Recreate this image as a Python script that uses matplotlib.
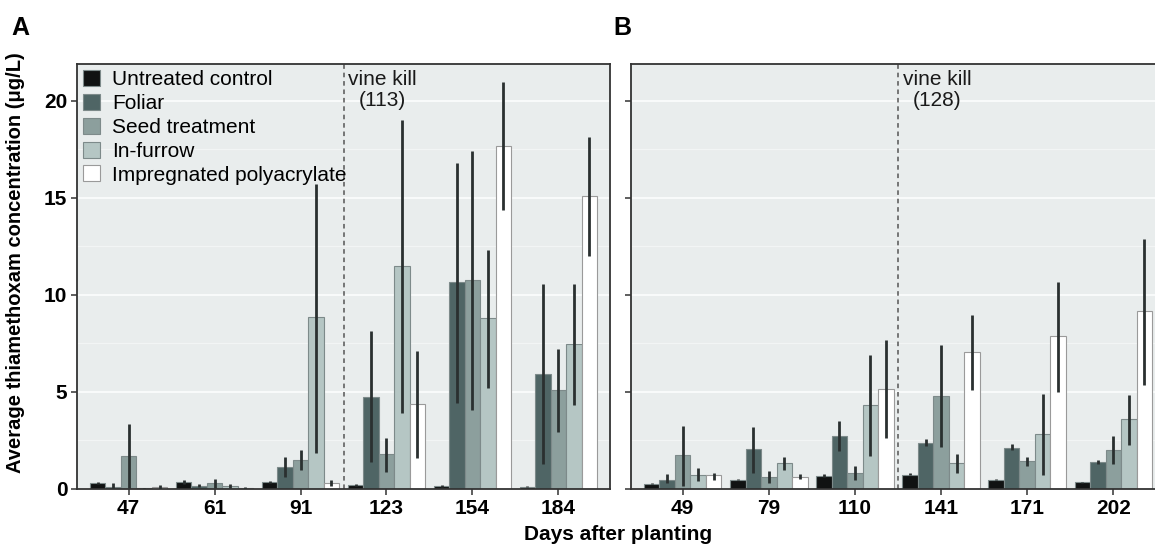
import matplotlib
matplotlib.use("Agg")
import matplotlib.pyplot as plt
from matplotlib.patches import Patch
import numpy as np

plt.rcParams['font.family'] = ['Liberation Sans', 'DejaVu Sans']

treatments = ["Untreated control", "Foliar", "Seed treatment", "In-furrow",
              "Impregnated polyacrylate"]
colors = ["#101212", "#4f6565", "#8c9f9d", "#b5c6c4", "#ffffff"]

# panel A
days_a = ["47", "61", "91", "123", "154", "184"]
mean_a = [
    [0.33, 0.35, 0.38, 0.22, 0.15, 0.12],
    [0.12, 0.15, 1.15, 4.75, 10.65, 5.95],
    [1.70, 0.30, 1.50, 1.80, 10.78, 5.12],
    [0.04, 0.15, 8.85, 11.50, 8.80, 7.48],
    [0.10, 0.05, 0.30, 4.38, 17.67, 15.10],
]
low_a = [
    [0.28, 0.28, 0.33, 0.18, 0.12, 0.10],
    [0.05, 0.08, 0.60, 1.37, 4.45, 1.27],
    [0.05, 0.05, 0.98, 0.86, 4.06, 2.95],
    [0.02, 0.05, 1.88, 3.94, 5.22, 4.32],
    [0.02, 0.02, 0.18, 1.58, 14.38, 12.02],
]
high_a = [
    [0.38, 0.45, 0.43, 0.27, 0.19, 0.14],
    [0.30, 0.25, 1.64, 8.12, 16.80, 10.56],
    [3.33, 0.52, 2.00, 2.65, 17.40, 7.23],
    [0.06, 0.28, 15.70, 19.00, 12.30, 10.56],
    [0.22, 0.08, 0.45, 7.10, 20.96, 18.15],
]

# panel B
days_b = ["49", "79", "110", "141", "171", "202"]
mean_b = [
    [0.27, 0.48, 0.65, 0.74, 0.48, 0.34],
    [0.48, 2.04, 2.75, 2.37, 2.13, 1.37],
    [1.74, 0.62, 0.82, 4.78, 1.43, 2.03],
    [0.70, 1.34, 4.31, 1.34, 2.84, 3.61],
    [0.70, 0.60, 5.15, 7.06, 7.87, 9.16],
]
low_b = [
    [0.24, 0.45, 0.60, 0.70, 0.45, 0.31],
    [0.30, 0.82, 1.94, 2.20, 2.00, 1.30],
    [0.15, 0.31, 0.48, 2.15, 1.20, 1.30],
    [0.40, 0.96, 1.72, 0.82, 0.74, 2.29],
    [0.48, 0.50, 2.63, 5.12, 5.00, 5.38],
]
high_b = [
    [0.31, 0.51, 0.75, 0.80, 0.52, 0.37],
    [0.75, 3.20, 3.49, 2.60, 2.30, 1.50],
    [3.23, 0.91, 1.17, 7.44, 1.65, 2.72],
    [1.08, 1.65, 6.89, 1.82, 4.90, 4.86],
    [0.82, 0.75, 7.68, 8.95, 10.65, 12.89],
]

vine_kill = ["vine kill\n(113)", "vine kill\n(128)"]

fig = plt.figure(figsize=(11.55, 5.45), dpi=100)
ax_a = fig.add_axes([77 / 1155, 56 / 545, 533 / 1155, 425 / 545])
ax_b = fig.add_axes([631 / 1155, 56 / 545, 534 / 1155, 425 / 545], sharey=ax_a)

width = 0.18
offsets = (np.arange(5) - 2) * width


def draw_panel(ax, days, mean, low, high, vk, letter, letter_x, show_labels):
    x = np.arange(len(days))
    ax.set_facecolor("#e9eded")
    ax.set_axisbelow(True)
    for i in range(5):
        m = np.array(mean[i])
        err = [m - np.array(low[i]), np.array(high[i]) - m]
        edge = "#9a9a9a" if i == 4 else "#7d8a8a"
        ax.bar(x + offsets[i], m, width, color=colors[i], edgecolor=edge,
               linewidth=0.8, zorder=2)
        ax.errorbar(x + offsets[i], m, yerr=err, fmt="none", ecolor="#2a3030",
                    elinewidth=2.0, capsize=0, zorder=3)
    ax.axvline(2.5, color="#555555", linestyle=(0, (3, 2.5)), linewidth=1.1, zorder=1)
    ax.text(2.555, 21.6, vk, ha="left", va="top", multialignment="center",
            fontsize=15, color="#1a1a1a", linespacing=1.12)
    ax.set_xlim(-0.6, 5.6)
    ax.set_ylim(0, 21.9)
    ax.set_xticks(x)
    ax.set_xticklabels(days, fontsize=15, fontweight="bold")
    ax.set_yticks([0, 5, 10, 15, 20])
    ax.set_yticks([2.5, 7.5, 12.5, 17.5], minor=True)
    ax.grid(axis="y", which="major", color="white", linewidth=1.3, alpha=0.8, zorder=0)
    ax.grid(axis="y", which="minor", color="white", linewidth=0.9, alpha=0.45, zorder=0)
    ax.tick_params(axis="y", which="minor", length=0)
    ax.tick_params(axis="both", which="major", direction="out", length=4,
                   width=1.1, color="#333333", pad=3)
    for s in ax.spines.values():
        s.set_color("#333333")
        s.set_linewidth(1.3)
    if show_labels:
        ax.set_yticklabels(["0", "5", "10", "15", "20"], fontsize=15, fontweight="bold")
    else:
        plt.setp(ax.get_yticklabels(), visible=False)
    fig.text(letter_x / 1155, 517 / 545, letter, fontsize=18, fontweight="bold",
             ha="left", va="center")


draw_panel(ax_a, days_a, mean_a, low_a, high_a, vine_kill[0], "A", 11, True)
draw_panel(ax_b, days_b, mean_b, low_b, high_b, vine_kill[1], "B", 613, False)

ax_a.set_ylabel("Average thiamethoxam concentration (\u03bcg/L)", fontsize=14.5,
                fontweight="bold")
ax_a.yaxis.set_label_coords(-0.098, 0.532)

handles = [Patch(facecolor=c, edgecolor="#9a9a9a" if i == 4 else "#7d8a8a", linewidth=0.8)
           for i, c in enumerate(colors)]
ax_a.legend(handles, treatments, loc="upper left", frameon=False, fontsize=15,
            handlelength=0.8, handleheight=0.8, handletextpad=0.6,
            labelspacing=0.22, borderaxespad=0.1, borderpad=0.2)

fig.text(618 / 1155, 10 / 545, "Days after planting", fontsize=15, fontweight="bold",
         ha="center", va="center")

fig.savefig("out.png", dpi=100)
